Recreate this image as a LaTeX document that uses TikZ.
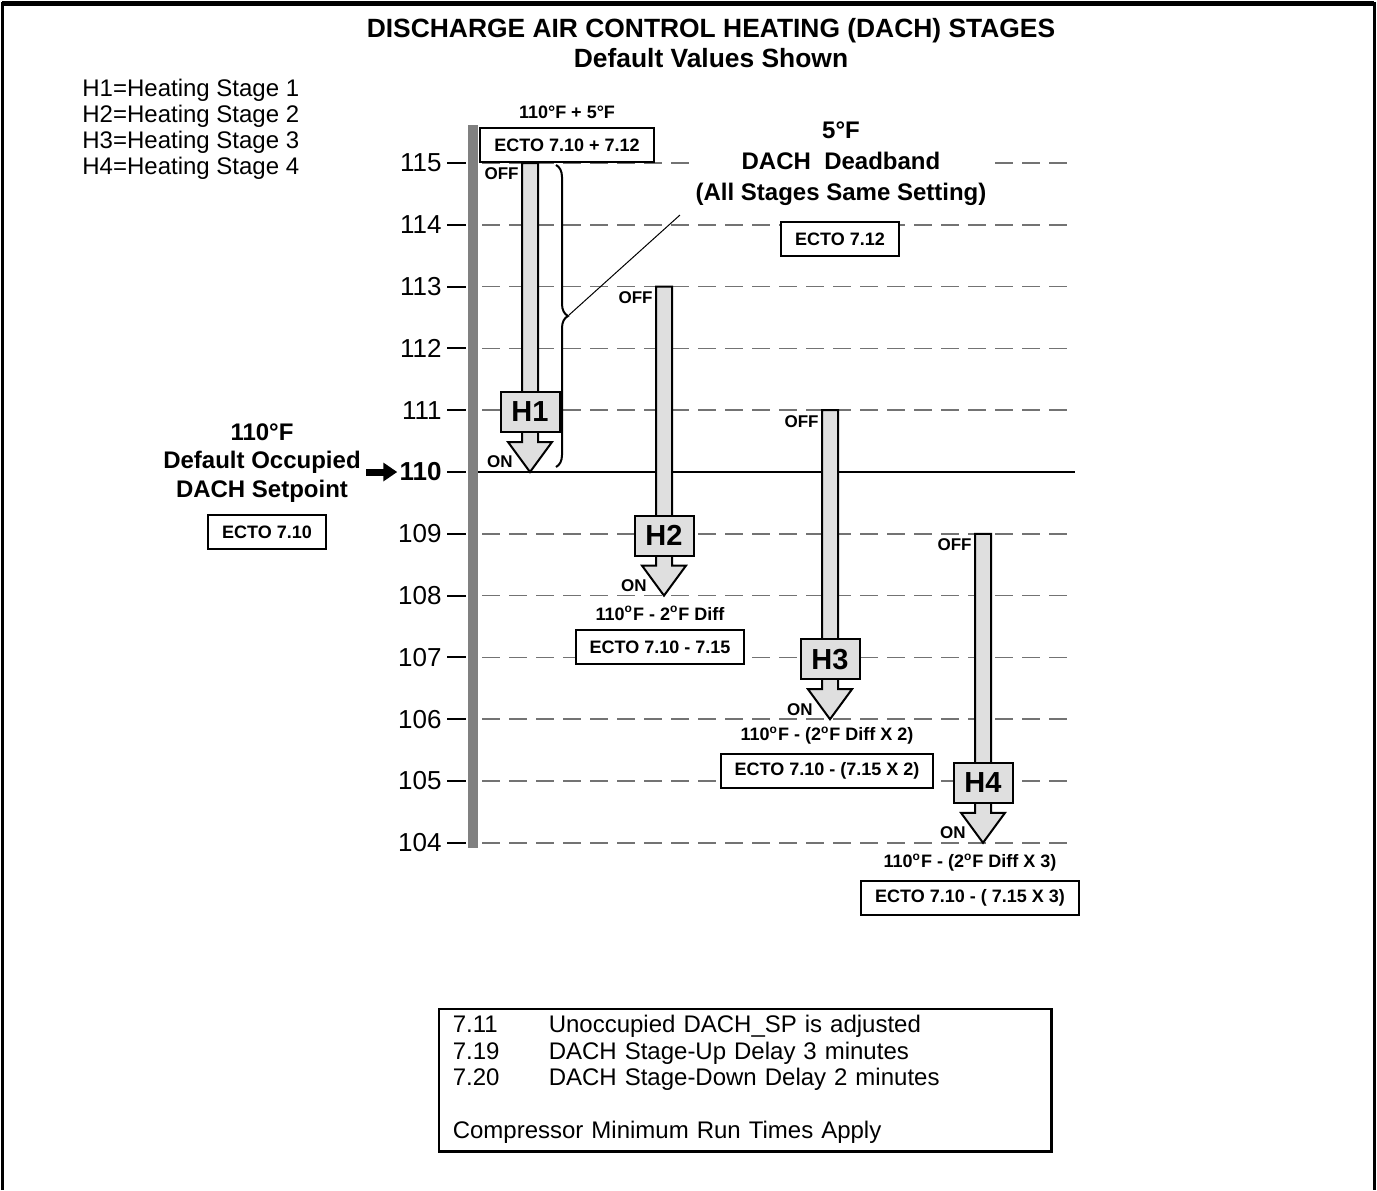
\documentclass[tikz,border=0pt]{standalone}
\usepackage{fontspec}
\setmainfont{Liberation Sans}
\usetikzlibrary{arrows.meta,positioning,decorations.pathreplacing}

% temperature -> y (px)
\newcommand{\ty}[1]{(472+(110-#1)*61.8)}
% stage arrow: name, x, off temp, on temp, label
\newcommand{\stage}[5]{%
  \coordinate (#1tip) at (#2,{\ty{#4}});
  \draw[sh] ({#2-8},{\ty{#3}}) -- ({#2-8},{\ty{#4}-30}) -- ({#2-22},{\ty{#4}-30}) -- (#1tip)
    -- ({#2+22},{\ty{#4}-30}) -- ({#2+8},{\ty{#4}-30}) -- ({#2+8},{\ty{#3}}) -- cycle;
  \node[hb] (#1) at (#2,{\ty{#4}-60}) {#5};
  \node[st,anchor=east] (#1off) at ({#2-11},{\ty{#3}+11}) {OFF};
  \node[st,anchor=east] (#1on) at ({#2-17},{\ty{#4}-10}) {ON};
}

\begin{document}
\begin{tikzpicture}[x=0.5pt,y=-0.5pt,>=Stealth,
  dl/.style={black!55,line width=0.75pt,dash pattern=on 9pt off 4.5pt},
  sh/.style={draw,fill=gray!25,line width=1pt},
  hb/.style={draw,fill=gray!25,line width=1pt,minimum width=29.5pt,minimum height=20pt,inner sep=0pt,font=\fontsize{14.5}{14.5}\selectfont\bfseries},
  eb/.style={draw,fill=white,line width=1pt,minimum height=17pt,inner xsep=7pt,inner ysep=0pt,font=\fontsize{9}{10}\selectfont\bfseries},
  lb/.style={inner sep=0pt,font=\fontsize{9}{10}\selectfont\bfseries},
  st/.style={inner sep=0pt,font=\fontsize{8.5}{9}\selectfont\bfseries},
  ax/.style={inner sep=0pt,font=\fontsize{13}{13}\selectfont},
  bl/.style={align=center,font=\fontsize{12}{14.25}\selectfont\bfseries}]
\useasboundingbox (0,0) rectangle (1377,1190);

% frame, open at the bottom
\draw[line width=1.5pt] (2,1190) -- (2,3) -- (1374,3) -- (1374,1190);
\draw[line width=2.5pt] (2,3) -- (1374,3);

\node[font=\fontsize{13.2}{15}\selectfont\bfseries,align=center] (title) at (711,43)
  {DISCHARGE AIR CONTROL HEATING (DACH) STAGES\\Default Values Shown};
\node[anchor=north west,inner sep=0pt,align=left,font=\fontsize{12}{13}\selectfont] (leg) at (82,79)
  {H1=Heating Stage 1\\H2=Heating Stage 2\\H3=Heating Stage 3\\H4=Heating Stage 4};

% scale
\foreach \t in {104,...,109,111,112,...,115}{
  \draw[dl] (482,{\ty{\t}}) -- (1075,{\ty{\t}});
  \draw[line width=1pt] (447,{\ty{\t}}) -- (466,{\ty{\t}});
  \node[ax,anchor=east] (t\t) at (442,{\ty{\t}}) {\t};
}
\draw[line width=1pt] (478,{\ty{110}}) -- (1075,{\ty{110}});
\draw[line width=1pt] (447,{\ty{110}}) -- (466,{\ty{110}});
\node[ax,anchor=east,font=\fontsize{13}{13}\selectfont\bfseries] (t110) at (442,{\ty{110}}) {110};
\fill[black!50] (468,125) rectangle (478,848);

% stages
\stage{h1}{530}{115}{110}{H1}
\stage{h2}{664}{113}{108}{H2}
\stage{h3}{830}{111}{106}{H3}
\stage{h4}{983}{109}{104}{H4}

% deadband
\draw[line width=1pt,decorate,decoration={brace,amplitude=6pt}] (556,165) -- (556,467);
\coordinate (bt) at (569,315);
\coordinate (dbx) at (680,215);
\draw[line width=0.5pt] (bt) -- (dbx);
\node[bl,fill=white,inner sep=1pt,font=\fontsize{12}{15.5}\selectfont\bfseries] (db) at (841,164)
  {5°F\\DACH\ \ Deadband\\(All Stages Same Setting)};
\node[eb] (e2) at (840,239) {ECTO 7.12};

% setpoints
\node[eb] (e1) at (567,145) {ECTO 7.10 + 7.12};
\node[lb,above=4pt of e1] (l1) {110°F + 5°F};
\node[eb] (e3) at (660,647) {ECTO 7.10 - 7.15};
\node[lb,above=4pt of e3] (l3) {110\textsuperscript{o}F - 2\textsuperscript{o}F Diff};
\node[eb] (e4) at (827,771) {ECTO 7.10 - (7.15 X 2)};
\node[lb,above=4pt of e4] (l4) {110\textsuperscript{o}F - (2\textsuperscript{o}F Diff X 2)};
\node[eb] (e5) at (970,898) {ECTO 7.10 - ( 7.15 X 3)};
\node[lb,above=4pt of e5] (l5) {110\textsuperscript{o}F - (2\textsuperscript{o}F Diff X 3)};

\node[bl] (sp) at (262,463) {110°F\\Default Occupied\\DACH Setpoint};
\node[eb] (e0) at (267,532) {ECTO 7.10};
\coordinate (sa) at (366,{\ty{110}});
\draw[line width=3.5pt,-{Triangle[length=7pt,width=9pt]},shorten >=1pt] (sa) -- (t110.west);

% notes
\node[draw,line width=0.8pt,anchor=north west,minimum height=70.5pt,text width=292pt,inner xsep=7pt,
  align=left,font=\fontsize{12}{13.25}\selectfont] (notes) at (438,1008)
  {\makebox[48pt][l]{7.11}Unoccupied DACH\_SP is adjusted\\
   \makebox[48pt][l]{7.19}DACH Stage-Up Delay 3 minutes\\
   \makebox[48pt][l]{7.20}DACH Stage-Down Delay 2 minutes\\[13.25pt]
   Compressor Minimum Run Times Apply};
\draw[line width=1.2pt] (notes.north east) -- (notes.south east) -- (notes.south west);
\end{tikzpicture}
\end{document}
